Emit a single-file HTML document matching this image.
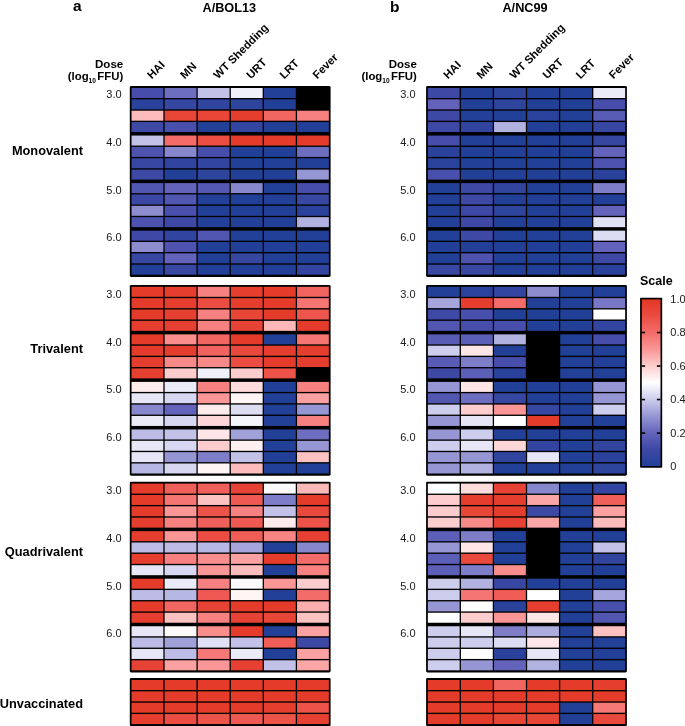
<!DOCTYPE html>
<html><head><meta charset="utf-8"><style>
html,body{margin:0;padding:0;background:#fff;}
body{width:685px;height:726px;overflow:hidden;}
svg{display:block;will-change:transform;font-family:"Liberation Sans",sans-serif;}
</style></head><body>
<svg width="685" height="726" viewBox="0 0 685 726">
<defs><filter id="sb" x="0" y="0" width="1" height="1"><feGaussianBlur stdDeviation="0.4"/></filter></defs>
<g filter="url(#sb)">
<rect x="0" y="0" width="685" height="726" fill="#fff"/>
<rect x="129.8" y="86.1" width="200.8" height="190.8" rx="1.4" fill="#000"/>
<rect x="131.55" y="88" width="31.8" height="10" fill="#464eaa"/>
<rect x="164.65" y="88" width="31.8" height="10" fill="#6e6ec1"/>
<rect x="197.75" y="88" width="31.8" height="10" fill="#c2c2e9"/>
<rect x="230.85" y="88" width="31.8" height="10" fill="#f0f0fa"/>
<rect x="263.95" y="88" width="31.8" height="10" fill="#224198"/>
<rect x="131.55" y="99.35" width="31.8" height="10" fill="#2a439c"/>
<rect x="164.65" y="99.35" width="31.8" height="10" fill="#3646a1"/>
<rect x="197.75" y="99.35" width="31.8" height="10" fill="#30449e"/>
<rect x="230.85" y="99.35" width="31.8" height="10" fill="#2d449d"/>
<rect x="263.95" y="99.35" width="31.8" height="10" fill="#224198"/>
<rect x="131.55" y="110.7" width="31.8" height="10" fill="#fcbcbc"/>
<rect x="164.65" y="110.7" width="31.8" height="10" fill="#e84639"/>
<rect x="197.75" y="110.7" width="31.8" height="10" fill="#e84639"/>
<rect x="230.85" y="110.7" width="31.8" height="10" fill="#e53e2e"/>
<rect x="263.95" y="110.7" width="31.8" height="10" fill="#f26662"/>
<rect x="297.05" y="110.7" width="31.8" height="10" fill="#f78180"/>
<rect x="131.55" y="122.05" width="31.8" height="10" fill="#3e48a5"/>
<rect x="164.65" y="122.05" width="31.8" height="10" fill="#4950ac"/>
<rect x="197.75" y="122.05" width="31.8" height="10" fill="#224198"/>
<rect x="230.85" y="122.05" width="31.8" height="10" fill="#3345a0"/>
<rect x="263.95" y="122.05" width="31.8" height="10" fill="#224198"/>
<rect x="297.05" y="122.05" width="31.8" height="10" fill="#224198"/>
<rect x="131.55" y="135.55" width="31.8" height="10" fill="#c2c2e9"/>
<rect x="164.65" y="135.55" width="31.8" height="10" fill="#f46c6a"/>
<rect x="197.75" y="135.55" width="31.8" height="10" fill="#eb4d42"/>
<rect x="230.85" y="135.55" width="31.8" height="10" fill="#e43b2b"/>
<rect x="263.95" y="135.55" width="31.8" height="10" fill="#e43b2b"/>
<rect x="297.05" y="135.55" width="31.8" height="10" fill="#e43b2b"/>
<rect x="131.55" y="146.9" width="31.8" height="10" fill="#4d53ae"/>
<rect x="164.65" y="146.9" width="31.8" height="10" fill="#8787cd"/>
<rect x="197.75" y="146.9" width="31.8" height="10" fill="#464eaa"/>
<rect x="230.85" y="146.9" width="31.8" height="10" fill="#224198"/>
<rect x="263.95" y="146.9" width="31.8" height="10" fill="#224198"/>
<rect x="297.05" y="146.9" width="31.8" height="10" fill="#6e6ec1"/>
<rect x="131.55" y="158.25" width="31.8" height="10" fill="#3847a2"/>
<rect x="164.65" y="158.25" width="31.8" height="10" fill="#30449e"/>
<rect x="197.75" y="158.25" width="31.8" height="10" fill="#3345a0"/>
<rect x="230.85" y="158.25" width="31.8" height="10" fill="#224198"/>
<rect x="263.95" y="158.25" width="31.8" height="10" fill="#224198"/>
<rect x="297.05" y="158.25" width="31.8" height="10" fill="#224198"/>
<rect x="131.55" y="169.6" width="31.8" height="10" fill="#3e48a5"/>
<rect x="164.65" y="169.6" width="31.8" height="10" fill="#224198"/>
<rect x="197.75" y="169.6" width="31.8" height="10" fill="#2d449d"/>
<rect x="230.85" y="169.6" width="31.8" height="10" fill="#224198"/>
<rect x="263.95" y="169.6" width="31.8" height="10" fill="#224198"/>
<rect x="297.05" y="169.6" width="31.8" height="10" fill="#9696d4"/>
<rect x="131.55" y="183.1" width="31.8" height="10" fill="#5156b0"/>
<rect x="164.65" y="183.1" width="31.8" height="10" fill="#6464bc"/>
<rect x="197.75" y="183.1" width="31.8" height="10" fill="#5559b3"/>
<rect x="230.85" y="183.1" width="31.8" height="10" fill="#8787cd"/>
<rect x="263.95" y="183.1" width="31.8" height="10" fill="#224198"/>
<rect x="297.05" y="183.1" width="31.8" height="10" fill="#464eaa"/>
<rect x="131.55" y="194.45" width="31.8" height="10" fill="#3b47a4"/>
<rect x="164.65" y="194.45" width="31.8" height="10" fill="#5156b0"/>
<rect x="197.75" y="194.45" width="31.8" height="10" fill="#224198"/>
<rect x="230.85" y="194.45" width="31.8" height="10" fill="#224198"/>
<rect x="263.95" y="194.45" width="31.8" height="10" fill="#224198"/>
<rect x="297.05" y="194.45" width="31.8" height="10" fill="#3847a2"/>
<rect x="131.55" y="205.8" width="31.8" height="10" fill="#8c8ccf"/>
<rect x="164.65" y="205.8" width="31.8" height="10" fill="#4950ac"/>
<rect x="197.75" y="205.8" width="31.8" height="10" fill="#224198"/>
<rect x="230.85" y="205.8" width="31.8" height="10" fill="#224198"/>
<rect x="263.95" y="205.8" width="31.8" height="10" fill="#224198"/>
<rect x="297.05" y="205.8" width="31.8" height="10" fill="#2a439c"/>
<rect x="131.55" y="217.15" width="31.8" height="10" fill="#4d53ae"/>
<rect x="164.65" y="217.15" width="31.8" height="10" fill="#3e48a5"/>
<rect x="197.75" y="217.15" width="31.8" height="10" fill="#224198"/>
<rect x="230.85" y="217.15" width="31.8" height="10" fill="#224198"/>
<rect x="263.95" y="217.15" width="31.8" height="10" fill="#224198"/>
<rect x="297.05" y="217.15" width="31.8" height="10" fill="#b2b2e1"/>
<rect x="131.55" y="230.65" width="31.8" height="10" fill="#3e48a5"/>
<rect x="164.65" y="230.65" width="31.8" height="10" fill="#30449e"/>
<rect x="197.75" y="230.65" width="31.8" height="10" fill="#5156b0"/>
<rect x="230.85" y="230.65" width="31.8" height="10" fill="#224198"/>
<rect x="263.95" y="230.65" width="31.8" height="10" fill="#224198"/>
<rect x="297.05" y="230.65" width="31.8" height="10" fill="#224198"/>
<rect x="131.55" y="242" width="31.8" height="10" fill="#8c8ccf"/>
<rect x="164.65" y="242" width="31.8" height="10" fill="#4d53ae"/>
<rect x="197.75" y="242" width="31.8" height="10" fill="#224198"/>
<rect x="230.85" y="242" width="31.8" height="10" fill="#224198"/>
<rect x="263.95" y="242" width="31.8" height="10" fill="#224198"/>
<rect x="297.05" y="242" width="31.8" height="10" fill="#224198"/>
<rect x="131.55" y="253.35" width="31.8" height="10" fill="#3847a2"/>
<rect x="164.65" y="253.35" width="31.8" height="10" fill="#6464bc"/>
<rect x="197.75" y="253.35" width="31.8" height="10" fill="#224198"/>
<rect x="230.85" y="253.35" width="31.8" height="10" fill="#3646a1"/>
<rect x="263.95" y="253.35" width="31.8" height="10" fill="#224198"/>
<rect x="297.05" y="253.35" width="31.8" height="10" fill="#224198"/>
<rect x="131.55" y="264.7" width="31.8" height="10" fill="#224198"/>
<rect x="164.65" y="264.7" width="31.8" height="10" fill="#3847a2"/>
<rect x="197.75" y="264.7" width="31.8" height="10" fill="#224198"/>
<rect x="230.85" y="264.7" width="31.8" height="10" fill="#224198"/>
<rect x="263.95" y="264.7" width="31.8" height="10" fill="#224198"/>
<rect x="297.05" y="264.7" width="31.8" height="10" fill="#3345a0"/>
<rect x="129.8" y="284.9" width="200.8" height="190.8" rx="1.4" fill="#000"/>
<rect x="131.55" y="286.8" width="31.8" height="10" fill="#e43b2b"/>
<rect x="164.65" y="286.8" width="31.8" height="10" fill="#e53e2e"/>
<rect x="197.75" y="286.8" width="31.8" height="10" fill="#f78180"/>
<rect x="230.85" y="286.8" width="31.8" height="10" fill="#e53e2e"/>
<rect x="263.95" y="286.8" width="31.8" height="10" fill="#e43b2b"/>
<rect x="297.05" y="286.8" width="31.8" height="10" fill="#f1635e"/>
<rect x="131.55" y="298.15" width="31.8" height="10" fill="#e43b2b"/>
<rect x="164.65" y="298.15" width="31.8" height="10" fill="#e53e2e"/>
<rect x="197.75" y="298.15" width="31.8" height="10" fill="#eb4d42"/>
<rect x="230.85" y="298.15" width="31.8" height="10" fill="#e53e2e"/>
<rect x="263.95" y="298.15" width="31.8" height="10" fill="#e43b2b"/>
<rect x="297.05" y="298.15" width="31.8" height="10" fill="#f57473"/>
<rect x="131.55" y="309.5" width="31.8" height="10" fill="#e43b2b"/>
<rect x="164.65" y="309.5" width="31.8" height="10" fill="#e64031"/>
<rect x="197.75" y="309.5" width="31.8" height="10" fill="#f78180"/>
<rect x="230.85" y="309.5" width="31.8" height="10" fill="#e84639"/>
<rect x="263.95" y="309.5" width="31.8" height="10" fill="#e43b2b"/>
<rect x="297.05" y="309.5" width="31.8" height="10" fill="#ee564e"/>
<rect x="131.55" y="320.85" width="31.8" height="10" fill="#e53e2e"/>
<rect x="164.65" y="320.85" width="31.8" height="10" fill="#e64031"/>
<rect x="197.75" y="320.85" width="31.8" height="10" fill="#f78180"/>
<rect x="230.85" y="320.85" width="31.8" height="10" fill="#e64234"/>
<rect x="263.95" y="320.85" width="31.8" height="10" fill="#fcb7b7"/>
<rect x="297.05" y="320.85" width="31.8" height="10" fill="#e43b2b"/>
<rect x="131.55" y="334.35" width="31.8" height="10" fill="#e43b2b"/>
<rect x="164.65" y="334.35" width="31.8" height="10" fill="#f98e8d"/>
<rect x="197.75" y="334.35" width="31.8" height="10" fill="#f26662"/>
<rect x="230.85" y="334.35" width="31.8" height="10" fill="#e43b2b"/>
<rect x="263.95" y="334.35" width="31.8" height="10" fill="#224198"/>
<rect x="297.05" y="334.35" width="31.8" height="10" fill="#f57473"/>
<rect x="131.55" y="345.7" width="31.8" height="10" fill="#e43b2b"/>
<rect x="164.65" y="345.7" width="31.8" height="10" fill="#e53e2e"/>
<rect x="197.75" y="345.7" width="31.8" height="10" fill="#f1635e"/>
<rect x="230.85" y="345.7" width="31.8" height="10" fill="#e9493c"/>
<rect x="263.95" y="345.7" width="31.8" height="10" fill="#e53e2e"/>
<rect x="297.05" y="345.7" width="31.8" height="10" fill="#e53e2e"/>
<rect x="131.55" y="357.05" width="31.8" height="10" fill="#e53e2e"/>
<rect x="164.65" y="357.05" width="31.8" height="10" fill="#f88989"/>
<rect x="197.75" y="357.05" width="31.8" height="10" fill="#f88989"/>
<rect x="230.85" y="357.05" width="31.8" height="10" fill="#eb4d42"/>
<rect x="263.95" y="357.05" width="31.8" height="10" fill="#e43b2b"/>
<rect x="297.05" y="357.05" width="31.8" height="10" fill="#e53e2e"/>
<rect x="131.55" y="368.4" width="31.8" height="10" fill="#e64031"/>
<rect x="164.65" y="368.4" width="31.8" height="10" fill="#fdcdcd"/>
<rect x="197.75" y="368.4" width="31.8" height="10" fill="#f0f0fa"/>
<rect x="230.85" y="368.4" width="31.8" height="10" fill="#fdcdcd"/>
<rect x="263.95" y="368.4" width="31.8" height="10" fill="#ed534a"/>
<rect x="131.55" y="381.9" width="31.8" height="10" fill="#feebeb"/>
<rect x="164.65" y="381.9" width="31.8" height="10" fill="#ebebf8"/>
<rect x="197.75" y="381.9" width="31.8" height="10" fill="#f78180"/>
<rect x="230.85" y="381.9" width="31.8" height="10" fill="#fedcdc"/>
<rect x="263.95" y="381.9" width="31.8" height="10" fill="#224198"/>
<rect x="297.05" y="381.9" width="31.8" height="10" fill="#f78180"/>
<rect x="131.55" y="393.25" width="31.8" height="10" fill="#e6e6f6"/>
<rect x="164.65" y="393.25" width="31.8" height="10" fill="#d7d7f1"/>
<rect x="197.75" y="393.25" width="31.8" height="10" fill="#fa9696"/>
<rect x="230.85" y="393.25" width="31.8" height="10" fill="#fff5f5"/>
<rect x="263.95" y="393.25" width="31.8" height="10" fill="#224198"/>
<rect x="297.05" y="393.25" width="31.8" height="10" fill="#fba1a1"/>
<rect x="131.55" y="404.6" width="31.8" height="10" fill="#8787cd"/>
<rect x="164.65" y="404.6" width="31.8" height="10" fill="#6464bc"/>
<rect x="197.75" y="404.6" width="31.8" height="10" fill="#feebeb"/>
<rect x="230.85" y="404.6" width="31.8" height="10" fill="#dcdcf3"/>
<rect x="263.95" y="404.6" width="31.8" height="10" fill="#224198"/>
<rect x="297.05" y="404.6" width="31.8" height="10" fill="#9696d4"/>
<rect x="131.55" y="415.95" width="31.8" height="10" fill="#ebebf8"/>
<rect x="164.65" y="415.95" width="31.8" height="10" fill="#d7d7f1"/>
<rect x="197.75" y="415.95" width="31.8" height="10" fill="#fdd7d7"/>
<rect x="230.85" y="415.95" width="31.8" height="10" fill="#f5f5fc"/>
<rect x="263.95" y="415.95" width="31.8" height="10" fill="#224198"/>
<rect x="297.05" y="415.95" width="31.8" height="10" fill="#f78180"/>
<rect x="131.55" y="429.45" width="31.8" height="10" fill="#bcbce6"/>
<rect x="164.65" y="429.45" width="31.8" height="10" fill="#c2c2e9"/>
<rect x="197.75" y="429.45" width="31.8" height="10" fill="#fee6e6"/>
<rect x="230.85" y="429.45" width="31.8" height="10" fill="#a1a1d9"/>
<rect x="263.95" y="429.45" width="31.8" height="10" fill="#224198"/>
<rect x="297.05" y="429.45" width="31.8" height="10" fill="#6e6ec1"/>
<rect x="131.55" y="440.8" width="31.8" height="10" fill="#e6e6f6"/>
<rect x="164.65" y="440.8" width="31.8" height="10" fill="#d7d7f1"/>
<rect x="197.75" y="440.8" width="31.8" height="10" fill="#fdcdcd"/>
<rect x="230.85" y="440.8" width="31.8" height="10" fill="#fef0f0"/>
<rect x="263.95" y="440.8" width="31.8" height="10" fill="#224198"/>
<rect x="297.05" y="440.8" width="31.8" height="10" fill="#9696d4"/>
<rect x="131.55" y="452.15" width="31.8" height="10" fill="#e6e6f6"/>
<rect x="164.65" y="452.15" width="31.8" height="10" fill="#9696d4"/>
<rect x="197.75" y="452.15" width="31.8" height="10" fill="#7d7dc8"/>
<rect x="230.85" y="452.15" width="31.8" height="10" fill="#c2c2e9"/>
<rect x="263.95" y="452.15" width="31.8" height="10" fill="#224198"/>
<rect x="297.05" y="452.15" width="31.8" height="10" fill="#fcc2c2"/>
<rect x="131.55" y="463.5" width="31.8" height="10" fill="#b7b7e4"/>
<rect x="164.65" y="463.5" width="31.8" height="10" fill="#d7d7f1"/>
<rect x="197.75" y="463.5" width="31.8" height="10" fill="#fff5f5"/>
<rect x="230.85" y="463.5" width="31.8" height="10" fill="#fcbcbc"/>
<rect x="263.95" y="463.5" width="31.8" height="10" fill="#224198"/>
<rect x="297.05" y="463.5" width="31.8" height="10" fill="#224198"/>
<rect x="129.8" y="481.7" width="200.8" height="190.8" rx="1.4" fill="#000"/>
<rect x="131.55" y="483.6" width="31.8" height="10" fill="#e43b2b"/>
<rect x="164.65" y="483.6" width="31.8" height="10" fill="#f0605a"/>
<rect x="197.75" y="483.6" width="31.8" height="10" fill="#f0605a"/>
<rect x="230.85" y="483.6" width="31.8" height="10" fill="#e64234"/>
<rect x="263.95" y="483.6" width="31.8" height="10" fill="#fafafd"/>
<rect x="297.05" y="483.6" width="31.8" height="10" fill="#fcb7b7"/>
<rect x="131.55" y="494.95" width="31.8" height="10" fill="#e43b2b"/>
<rect x="164.65" y="494.95" width="31.8" height="10" fill="#f57473"/>
<rect x="197.75" y="494.95" width="31.8" height="10" fill="#fcc2c2"/>
<rect x="230.85" y="494.95" width="31.8" height="10" fill="#ef5952"/>
<rect x="263.95" y="494.95" width="31.8" height="10" fill="#7d7dc8"/>
<rect x="297.05" y="494.95" width="31.8" height="10" fill="#e43b2b"/>
<rect x="131.55" y="506.3" width="31.8" height="10" fill="#e43b2b"/>
<rect x="164.65" y="506.3" width="31.8" height="10" fill="#fa9696"/>
<rect x="197.75" y="506.3" width="31.8" height="10" fill="#ed534a"/>
<rect x="230.85" y="506.3" width="31.8" height="10" fill="#f78180"/>
<rect x="263.95" y="506.3" width="31.8" height="10" fill="#c2c2e9"/>
<rect x="297.05" y="506.3" width="31.8" height="10" fill="#e9493c"/>
<rect x="131.55" y="517.65" width="31.8" height="10" fill="#e53e2e"/>
<rect x="164.65" y="517.65" width="31.8" height="10" fill="#f78180"/>
<rect x="197.75" y="517.65" width="31.8" height="10" fill="#f0605a"/>
<rect x="230.85" y="517.65" width="31.8" height="10" fill="#ef5952"/>
<rect x="263.95" y="517.65" width="31.8" height="10" fill="#feebeb"/>
<rect x="297.05" y="517.65" width="31.8" height="10" fill="#ed534a"/>
<rect x="131.55" y="531.15" width="31.8" height="10" fill="#e53e2e"/>
<rect x="164.65" y="531.15" width="31.8" height="10" fill="#fa9696"/>
<rect x="197.75" y="531.15" width="31.8" height="10" fill="#eb4d42"/>
<rect x="230.85" y="531.15" width="31.8" height="10" fill="#f05d56"/>
<rect x="263.95" y="531.15" width="31.8" height="10" fill="#f88584"/>
<rect x="297.05" y="531.15" width="31.8" height="10" fill="#e64031"/>
<rect x="131.55" y="542.5" width="31.8" height="10" fill="#bcbce6"/>
<rect x="164.65" y="542.5" width="31.8" height="10" fill="#bcbce6"/>
<rect x="197.75" y="542.5" width="31.8" height="10" fill="#b7b7e4"/>
<rect x="230.85" y="542.5" width="31.8" height="10" fill="#a6a6dc"/>
<rect x="263.95" y="542.5" width="31.8" height="10" fill="#224198"/>
<rect x="297.05" y="542.5" width="31.8" height="10" fill="#8787cd"/>
<rect x="131.55" y="553.85" width="31.8" height="10" fill="#e53e2e"/>
<rect x="164.65" y="553.85" width="31.8" height="10" fill="#f78180"/>
<rect x="197.75" y="553.85" width="31.8" height="10" fill="#f98e8d"/>
<rect x="230.85" y="553.85" width="31.8" height="10" fill="#fba1a1"/>
<rect x="263.95" y="553.85" width="31.8" height="10" fill="#e43b2b"/>
<rect x="297.05" y="553.85" width="31.8" height="10" fill="#f46c6a"/>
<rect x="131.55" y="565.2" width="31.8" height="10" fill="#e6e6f6"/>
<rect x="164.65" y="565.2" width="31.8" height="10" fill="#d7d7f1"/>
<rect x="197.75" y="565.2" width="31.8" height="10" fill="#fa9696"/>
<rect x="230.85" y="565.2" width="31.8" height="10" fill="#fcbcbc"/>
<rect x="263.95" y="565.2" width="31.8" height="10" fill="#224198"/>
<rect x="297.05" y="565.2" width="31.8" height="10" fill="#f78180"/>
<rect x="131.55" y="578.7" width="31.8" height="10" fill="#e43b2b"/>
<rect x="164.65" y="578.7" width="31.8" height="10" fill="#ebebf8"/>
<rect x="197.75" y="578.7" width="31.8" height="10" fill="#f78180"/>
<rect x="230.85" y="578.7" width="31.8" height="10" fill="#fafafd"/>
<rect x="263.95" y="578.7" width="31.8" height="10" fill="#fa9696"/>
<rect x="297.05" y="578.7" width="31.8" height="10" fill="#fdcdcd"/>
<rect x="131.55" y="590.05" width="31.8" height="10" fill="#bcbce6"/>
<rect x="164.65" y="590.05" width="31.8" height="10" fill="#b7b7e4"/>
<rect x="197.75" y="590.05" width="31.8" height="10" fill="#ef5952"/>
<rect x="230.85" y="590.05" width="31.8" height="10" fill="#fff5f5"/>
<rect x="263.95" y="590.05" width="31.8" height="10" fill="#224198"/>
<rect x="297.05" y="590.05" width="31.8" height="10" fill="#f46c6a"/>
<rect x="131.55" y="601.4" width="31.8" height="10" fill="#e43b2b"/>
<rect x="164.65" y="601.4" width="31.8" height="10" fill="#f26662"/>
<rect x="197.75" y="601.4" width="31.8" height="10" fill="#e64234"/>
<rect x="230.85" y="601.4" width="31.8" height="10" fill="#e43b2b"/>
<rect x="263.95" y="601.4" width="31.8" height="10" fill="#e43b2b"/>
<rect x="297.05" y="601.4" width="31.8" height="10" fill="#fbacac"/>
<rect x="131.55" y="612.75" width="31.8" height="10" fill="#e53e2e"/>
<rect x="164.65" y="612.75" width="31.8" height="10" fill="#fcc2c2"/>
<rect x="197.75" y="612.75" width="31.8" height="10" fill="#f78180"/>
<rect x="230.85" y="612.75" width="31.8" height="10" fill="#e64234"/>
<rect x="263.95" y="612.75" width="31.8" height="10" fill="#e74436"/>
<rect x="297.05" y="612.75" width="31.8" height="10" fill="#fcc2c2"/>
<rect x="131.55" y="626.25" width="31.8" height="10" fill="#e6e6f6"/>
<rect x="164.65" y="626.25" width="31.8" height="10" fill="#fffafa"/>
<rect x="197.75" y="626.25" width="31.8" height="10" fill="#f98e8d"/>
<rect x="230.85" y="626.25" width="31.8" height="10" fill="#e43b2b"/>
<rect x="263.95" y="626.25" width="31.8" height="10" fill="#224198"/>
<rect x="297.05" y="626.25" width="31.8" height="10" fill="#fba1a1"/>
<rect x="131.55" y="637.6" width="31.8" height="10" fill="#bcbce6"/>
<rect x="164.65" y="637.6" width="31.8" height="10" fill="#a1a1d9"/>
<rect x="197.75" y="637.6" width="31.8" height="10" fill="#e1e1f5"/>
<rect x="230.85" y="637.6" width="31.8" height="10" fill="#c2c2e9"/>
<rect x="263.95" y="637.6" width="31.8" height="10" fill="#f05d56"/>
<rect x="297.05" y="637.6" width="31.8" height="10" fill="#3e48a5"/>
<rect x="131.55" y="648.95" width="31.8" height="10" fill="#e6e6f6"/>
<rect x="164.65" y="648.95" width="31.8" height="10" fill="#bcbce6"/>
<rect x="197.75" y="648.95" width="31.8" height="10" fill="#f67977"/>
<rect x="230.85" y="648.95" width="31.8" height="10" fill="#ebebf8"/>
<rect x="263.95" y="648.95" width="31.8" height="10" fill="#224198"/>
<rect x="297.05" y="648.95" width="31.8" height="10" fill="#fba1a1"/>
<rect x="131.55" y="660.3" width="31.8" height="10" fill="#e64234"/>
<rect x="164.65" y="660.3" width="31.8" height="10" fill="#fba1a1"/>
<rect x="197.75" y="660.3" width="31.8" height="10" fill="#fa9696"/>
<rect x="230.85" y="660.3" width="31.8" height="10" fill="#e64031"/>
<rect x="263.95" y="660.3" width="31.8" height="10" fill="#c2c2e9"/>
<rect x="297.05" y="660.3" width="31.8" height="10" fill="#fba6a6"/>
<rect x="129.8" y="678.1" width="200.8" height="48.15" rx="1.4" fill="#000"/>
<rect x="131.55" y="680" width="31.8" height="10" fill="#e43b2b"/>
<rect x="164.65" y="680" width="31.8" height="10" fill="#e43b2b"/>
<rect x="197.75" y="680" width="31.8" height="10" fill="#e43b2b"/>
<rect x="230.85" y="680" width="31.8" height="10" fill="#e43b2b"/>
<rect x="263.95" y="680" width="31.8" height="10" fill="#e43b2b"/>
<rect x="297.05" y="680" width="31.8" height="10" fill="#e43b2b"/>
<rect x="131.55" y="691.35" width="31.8" height="10" fill="#e43b2b"/>
<rect x="164.65" y="691.35" width="31.8" height="10" fill="#e43b2b"/>
<rect x="197.75" y="691.35" width="31.8" height="10" fill="#e43b2b"/>
<rect x="230.85" y="691.35" width="31.8" height="10" fill="#e43b2b"/>
<rect x="263.95" y="691.35" width="31.8" height="10" fill="#e43b2b"/>
<rect x="297.05" y="691.35" width="31.8" height="10" fill="#e43b2b"/>
<rect x="131.55" y="702.7" width="31.8" height="10" fill="#e43b2b"/>
<rect x="164.65" y="702.7" width="31.8" height="10" fill="#e43b2b"/>
<rect x="197.75" y="702.7" width="31.8" height="10" fill="#e43b2b"/>
<rect x="230.85" y="702.7" width="31.8" height="10" fill="#e43b2b"/>
<rect x="263.95" y="702.7" width="31.8" height="10" fill="#e53e2e"/>
<rect x="297.05" y="702.7" width="31.8" height="10" fill="#ed534a"/>
<rect x="131.55" y="714.05" width="31.8" height="10" fill="#e53e2e"/>
<rect x="164.65" y="714.05" width="31.8" height="10" fill="#eb4d42"/>
<rect x="197.75" y="714.05" width="31.8" height="10" fill="#ed534a"/>
<rect x="230.85" y="714.05" width="31.8" height="10" fill="#ef5952"/>
<rect x="263.95" y="714.05" width="31.8" height="10" fill="#ed534a"/>
<rect x="297.05" y="714.05" width="31.8" height="10" fill="#e64031"/>
<rect x="426.1" y="86.1" width="200.8" height="190.8" rx="1.4" fill="#000"/>
<rect x="427.85" y="88" width="31.8" height="10" fill="#3e48a5"/>
<rect x="460.95" y="88" width="31.8" height="10" fill="#224198"/>
<rect x="494.05" y="88" width="31.8" height="10" fill="#2d449d"/>
<rect x="527.15" y="88" width="31.8" height="10" fill="#224198"/>
<rect x="560.25" y="88" width="31.8" height="10" fill="#224198"/>
<rect x="593.35" y="88" width="31.8" height="10" fill="#ebebf8"/>
<rect x="427.85" y="99.35" width="31.8" height="10" fill="#6464bc"/>
<rect x="460.95" y="99.35" width="31.8" height="10" fill="#224198"/>
<rect x="494.05" y="99.35" width="31.8" height="10" fill="#2d449d"/>
<rect x="527.15" y="99.35" width="31.8" height="10" fill="#224198"/>
<rect x="560.25" y="99.35" width="31.8" height="10" fill="#224198"/>
<rect x="593.35" y="99.35" width="31.8" height="10" fill="#464eaa"/>
<rect x="427.85" y="110.7" width="31.8" height="10" fill="#3e48a5"/>
<rect x="460.95" y="110.7" width="31.8" height="10" fill="#224198"/>
<rect x="494.05" y="110.7" width="31.8" height="10" fill="#224198"/>
<rect x="527.15" y="110.7" width="31.8" height="10" fill="#2a439c"/>
<rect x="560.25" y="110.7" width="31.8" height="10" fill="#224198"/>
<rect x="593.35" y="110.7" width="31.8" height="10" fill="#595cb5"/>
<rect x="427.85" y="122.05" width="31.8" height="10" fill="#3e48a5"/>
<rect x="460.95" y="122.05" width="31.8" height="10" fill="#30449e"/>
<rect x="494.05" y="122.05" width="31.8" height="10" fill="#b2b2e1"/>
<rect x="527.15" y="122.05" width="31.8" height="10" fill="#224198"/>
<rect x="560.25" y="122.05" width="31.8" height="10" fill="#224198"/>
<rect x="593.35" y="122.05" width="31.8" height="10" fill="#3847a2"/>
<rect x="427.85" y="135.55" width="31.8" height="10" fill="#464eaa"/>
<rect x="460.95" y="135.55" width="31.8" height="10" fill="#224198"/>
<rect x="494.05" y="135.55" width="31.8" height="10" fill="#224198"/>
<rect x="527.15" y="135.55" width="31.8" height="10" fill="#224198"/>
<rect x="560.25" y="135.55" width="31.8" height="10" fill="#224198"/>
<rect x="593.35" y="135.55" width="31.8" height="10" fill="#3646a1"/>
<rect x="427.85" y="146.9" width="31.8" height="10" fill="#2a439c"/>
<rect x="460.95" y="146.9" width="31.8" height="10" fill="#224198"/>
<rect x="494.05" y="146.9" width="31.8" height="10" fill="#224198"/>
<rect x="527.15" y="146.9" width="31.8" height="10" fill="#224198"/>
<rect x="560.25" y="146.9" width="31.8" height="10" fill="#224198"/>
<rect x="593.35" y="146.9" width="31.8" height="10" fill="#6464bc"/>
<rect x="427.85" y="158.25" width="31.8" height="10" fill="#2a439c"/>
<rect x="460.95" y="158.25" width="31.8" height="10" fill="#224198"/>
<rect x="494.05" y="158.25" width="31.8" height="10" fill="#224198"/>
<rect x="527.15" y="158.25" width="31.8" height="10" fill="#224198"/>
<rect x="560.25" y="158.25" width="31.8" height="10" fill="#224198"/>
<rect x="593.35" y="158.25" width="31.8" height="10" fill="#4d53ae"/>
<rect x="427.85" y="169.6" width="31.8" height="10" fill="#4950ac"/>
<rect x="460.95" y="169.6" width="31.8" height="10" fill="#224198"/>
<rect x="494.05" y="169.6" width="31.8" height="10" fill="#224198"/>
<rect x="527.15" y="169.6" width="31.8" height="10" fill="#224198"/>
<rect x="560.25" y="169.6" width="31.8" height="10" fill="#224198"/>
<rect x="593.35" y="169.6" width="31.8" height="10" fill="#2a439c"/>
<rect x="427.85" y="183.1" width="31.8" height="10" fill="#224198"/>
<rect x="460.95" y="183.1" width="31.8" height="10" fill="#3e48a5"/>
<rect x="494.05" y="183.1" width="31.8" height="10" fill="#30449e"/>
<rect x="527.15" y="183.1" width="31.8" height="10" fill="#224198"/>
<rect x="560.25" y="183.1" width="31.8" height="10" fill="#224198"/>
<rect x="593.35" y="183.1" width="31.8" height="10" fill="#7d7dc8"/>
<rect x="427.85" y="194.45" width="31.8" height="10" fill="#224198"/>
<rect x="460.95" y="194.45" width="31.8" height="10" fill="#3e48a5"/>
<rect x="494.05" y="194.45" width="31.8" height="10" fill="#224198"/>
<rect x="527.15" y="194.45" width="31.8" height="10" fill="#224198"/>
<rect x="560.25" y="194.45" width="31.8" height="10" fill="#224198"/>
<rect x="593.35" y="194.45" width="31.8" height="10" fill="#224198"/>
<rect x="427.85" y="205.8" width="31.8" height="10" fill="#224198"/>
<rect x="460.95" y="205.8" width="31.8" height="10" fill="#3e48a5"/>
<rect x="494.05" y="205.8" width="31.8" height="10" fill="#2d449d"/>
<rect x="527.15" y="205.8" width="31.8" height="10" fill="#224198"/>
<rect x="560.25" y="205.8" width="31.8" height="10" fill="#224198"/>
<rect x="593.35" y="205.8" width="31.8" height="10" fill="#6464bc"/>
<rect x="427.85" y="217.15" width="31.8" height="10" fill="#224198"/>
<rect x="460.95" y="217.15" width="31.8" height="10" fill="#3e48a5"/>
<rect x="494.05" y="217.15" width="31.8" height="10" fill="#224198"/>
<rect x="527.15" y="217.15" width="31.8" height="10" fill="#224198"/>
<rect x="560.25" y="217.15" width="31.8" height="10" fill="#224198"/>
<rect x="593.35" y="217.15" width="31.8" height="10" fill="#e1e1f5"/>
<rect x="427.85" y="230.65" width="31.8" height="10" fill="#224198"/>
<rect x="460.95" y="230.65" width="31.8" height="10" fill="#3e48a5"/>
<rect x="494.05" y="230.65" width="31.8" height="10" fill="#224198"/>
<rect x="527.15" y="230.65" width="31.8" height="10" fill="#224198"/>
<rect x="560.25" y="230.65" width="31.8" height="10" fill="#224198"/>
<rect x="593.35" y="230.65" width="31.8" height="10" fill="#dcdcf3"/>
<rect x="427.85" y="242" width="31.8" height="10" fill="#224198"/>
<rect x="460.95" y="242" width="31.8" height="10" fill="#224198"/>
<rect x="494.05" y="242" width="31.8" height="10" fill="#224198"/>
<rect x="527.15" y="242" width="31.8" height="10" fill="#224198"/>
<rect x="560.25" y="242" width="31.8" height="10" fill="#224198"/>
<rect x="593.35" y="242" width="31.8" height="10" fill="#6464bc"/>
<rect x="427.85" y="253.35" width="31.8" height="10" fill="#224198"/>
<rect x="460.95" y="253.35" width="31.8" height="10" fill="#4d53ae"/>
<rect x="494.05" y="253.35" width="31.8" height="10" fill="#224198"/>
<rect x="527.15" y="253.35" width="31.8" height="10" fill="#224198"/>
<rect x="560.25" y="253.35" width="31.8" height="10" fill="#224198"/>
<rect x="593.35" y="253.35" width="31.8" height="10" fill="#3e48a5"/>
<rect x="427.85" y="264.7" width="31.8" height="10" fill="#3847a2"/>
<rect x="460.95" y="264.7" width="31.8" height="10" fill="#3847a2"/>
<rect x="494.05" y="264.7" width="31.8" height="10" fill="#224198"/>
<rect x="527.15" y="264.7" width="31.8" height="10" fill="#224198"/>
<rect x="560.25" y="264.7" width="31.8" height="10" fill="#224198"/>
<rect x="593.35" y="264.7" width="31.8" height="10" fill="#2a439c"/>
<rect x="426.1" y="284.9" width="200.8" height="190.8" rx="1.4" fill="#000"/>
<rect x="427.85" y="286.8" width="31.8" height="10" fill="#224198"/>
<rect x="460.95" y="286.8" width="31.8" height="10" fill="#2a439c"/>
<rect x="494.05" y="286.8" width="31.8" height="10" fill="#3345a0"/>
<rect x="527.15" y="286.8" width="31.8" height="10" fill="#8c8ccf"/>
<rect x="560.25" y="286.8" width="31.8" height="10" fill="#224198"/>
<rect x="593.35" y="286.8" width="31.8" height="10" fill="#224198"/>
<rect x="427.85" y="298.15" width="31.8" height="10" fill="#a6a6dc"/>
<rect x="460.95" y="298.15" width="31.8" height="10" fill="#e53e2e"/>
<rect x="494.05" y="298.15" width="31.8" height="10" fill="#f46c6a"/>
<rect x="527.15" y="298.15" width="31.8" height="10" fill="#224198"/>
<rect x="560.25" y="298.15" width="31.8" height="10" fill="#224198"/>
<rect x="593.35" y="298.15" width="31.8" height="10" fill="#7878c6"/>
<rect x="427.85" y="309.5" width="31.8" height="10" fill="#3e48a5"/>
<rect x="460.95" y="309.5" width="31.8" height="10" fill="#4950ac"/>
<rect x="494.05" y="309.5" width="31.8" height="10" fill="#224198"/>
<rect x="527.15" y="309.5" width="31.8" height="10" fill="#224198"/>
<rect x="560.25" y="309.5" width="31.8" height="10" fill="#224198"/>
<rect x="593.35" y="309.5" width="31.8" height="10" fill="#ffffff"/>
<rect x="427.85" y="320.85" width="31.8" height="10" fill="#5156b0"/>
<rect x="460.95" y="320.85" width="31.8" height="10" fill="#464eaa"/>
<rect x="494.05" y="320.85" width="31.8" height="10" fill="#464eaa"/>
<rect x="527.15" y="320.85" width="31.8" height="10" fill="#224198"/>
<rect x="560.25" y="320.85" width="31.8" height="10" fill="#224198"/>
<rect x="593.35" y="320.85" width="31.8" height="10" fill="#3345a0"/>
<rect x="427.85" y="334.35" width="31.8" height="10" fill="#595cb5"/>
<rect x="460.95" y="334.35" width="31.8" height="10" fill="#5c5eb7"/>
<rect x="494.05" y="334.35" width="31.8" height="10" fill="#b2b2e1"/>
<rect x="560.25" y="334.35" width="31.8" height="10" fill="#224198"/>
<rect x="593.35" y="334.35" width="31.8" height="10" fill="#464eaa"/>
<rect x="427.85" y="345.7" width="31.8" height="10" fill="#cdcdee"/>
<rect x="460.95" y="345.7" width="31.8" height="10" fill="#fee6e6"/>
<rect x="494.05" y="345.7" width="31.8" height="10" fill="#224198"/>
<rect x="560.25" y="345.7" width="31.8" height="10" fill="#224198"/>
<rect x="593.35" y="345.7" width="31.8" height="10" fill="#224198"/>
<rect x="427.85" y="357.05" width="31.8" height="10" fill="#595cb5"/>
<rect x="460.95" y="357.05" width="31.8" height="10" fill="#7d7dc8"/>
<rect x="494.05" y="357.05" width="31.8" height="10" fill="#464eaa"/>
<rect x="560.25" y="357.05" width="31.8" height="10" fill="#224198"/>
<rect x="593.35" y="357.05" width="31.8" height="10" fill="#224198"/>
<rect x="427.85" y="368.4" width="31.8" height="10" fill="#3e48a5"/>
<rect x="460.95" y="368.4" width="31.8" height="10" fill="#5c5eb7"/>
<rect x="494.05" y="368.4" width="31.8" height="10" fill="#2a439c"/>
<rect x="560.25" y="368.4" width="31.8" height="10" fill="#224198"/>
<rect x="593.35" y="368.4" width="31.8" height="10" fill="#224198"/>
<rect x="427.85" y="381.9" width="31.8" height="10" fill="#9696d4"/>
<rect x="460.95" y="381.9" width="31.8" height="10" fill="#fee6e6"/>
<rect x="494.05" y="381.9" width="31.8" height="10" fill="#224198"/>
<rect x="527.15" y="381.9" width="31.8" height="10" fill="#224198"/>
<rect x="560.25" y="381.9" width="31.8" height="10" fill="#224198"/>
<rect x="593.35" y="381.9" width="31.8" height="10" fill="#9696d4"/>
<rect x="427.85" y="393.25" width="31.8" height="10" fill="#5156b0"/>
<rect x="460.95" y="393.25" width="31.8" height="10" fill="#6e6ec1"/>
<rect x="494.05" y="393.25" width="31.8" height="10" fill="#3646a1"/>
<rect x="527.15" y="393.25" width="31.8" height="10" fill="#224198"/>
<rect x="560.25" y="393.25" width="31.8" height="10" fill="#224198"/>
<rect x="593.35" y="393.25" width="31.8" height="10" fill="#9696d4"/>
<rect x="427.85" y="404.6" width="31.8" height="10" fill="#cdcdee"/>
<rect x="460.95" y="404.6" width="31.8" height="10" fill="#fdcdcd"/>
<rect x="494.05" y="404.6" width="31.8" height="10" fill="#fa9696"/>
<rect x="527.15" y="404.6" width="31.8" height="10" fill="#3646a1"/>
<rect x="560.25" y="404.6" width="31.8" height="10" fill="#224198"/>
<rect x="593.35" y="404.6" width="31.8" height="10" fill="#cdcdee"/>
<rect x="427.85" y="415.95" width="31.8" height="10" fill="#9696d4"/>
<rect x="460.95" y="415.95" width="31.8" height="10" fill="#e6e6f6"/>
<rect x="494.05" y="415.95" width="31.8" height="10" fill="#ffffff"/>
<rect x="527.15" y="415.95" width="31.8" height="10" fill="#e43b2b"/>
<rect x="560.25" y="415.95" width="31.8" height="10" fill="#224198"/>
<rect x="593.35" y="415.95" width="31.8" height="10" fill="#224198"/>
<rect x="427.85" y="429.45" width="31.8" height="10" fill="#9696d4"/>
<rect x="460.95" y="429.45" width="31.8" height="10" fill="#cdcdee"/>
<rect x="494.05" y="429.45" width="31.8" height="10" fill="#224198"/>
<rect x="527.15" y="429.45" width="31.8" height="10" fill="#224198"/>
<rect x="560.25" y="429.45" width="31.8" height="10" fill="#224198"/>
<rect x="593.35" y="429.45" width="31.8" height="10" fill="#224198"/>
<rect x="427.85" y="440.8" width="31.8" height="10" fill="#cdcdee"/>
<rect x="460.95" y="440.8" width="31.8" height="10" fill="#e6e6f6"/>
<rect x="494.05" y="440.8" width="31.8" height="10" fill="#fdd7d7"/>
<rect x="527.15" y="440.8" width="31.8" height="10" fill="#3345a0"/>
<rect x="560.25" y="440.8" width="31.8" height="10" fill="#224198"/>
<rect x="593.35" y="440.8" width="31.8" height="10" fill="#30449e"/>
<rect x="427.85" y="452.15" width="31.8" height="10" fill="#9696d4"/>
<rect x="460.95" y="452.15" width="31.8" height="10" fill="#9696d4"/>
<rect x="494.05" y="452.15" width="31.8" height="10" fill="#30449e"/>
<rect x="527.15" y="452.15" width="31.8" height="10" fill="#e6e6f6"/>
<rect x="560.25" y="452.15" width="31.8" height="10" fill="#224198"/>
<rect x="593.35" y="452.15" width="31.8" height="10" fill="#2a439c"/>
<rect x="427.85" y="463.5" width="31.8" height="10" fill="#9696d4"/>
<rect x="460.95" y="463.5" width="31.8" height="10" fill="#b2b2e1"/>
<rect x="494.05" y="463.5" width="31.8" height="10" fill="#224198"/>
<rect x="527.15" y="463.5" width="31.8" height="10" fill="#224198"/>
<rect x="560.25" y="463.5" width="31.8" height="10" fill="#224198"/>
<rect x="593.35" y="463.5" width="31.8" height="10" fill="#2d449d"/>
<rect x="426.1" y="481.7" width="200.8" height="190.8" rx="1.4" fill="#000"/>
<rect x="427.85" y="483.6" width="31.8" height="10" fill="#ffffff"/>
<rect x="460.95" y="483.6" width="31.8" height="10" fill="#fedcdc"/>
<rect x="494.05" y="483.6" width="31.8" height="10" fill="#e64234"/>
<rect x="527.15" y="483.6" width="31.8" height="10" fill="#8787cd"/>
<rect x="560.25" y="483.6" width="31.8" height="10" fill="#224198"/>
<rect x="593.35" y="483.6" width="31.8" height="10" fill="#3345a0"/>
<rect x="427.85" y="494.95" width="31.8" height="10" fill="#fdcdcd"/>
<rect x="460.95" y="494.95" width="31.8" height="10" fill="#e53e2e"/>
<rect x="494.05" y="494.95" width="31.8" height="10" fill="#e53e2e"/>
<rect x="527.15" y="494.95" width="31.8" height="10" fill="#fba6a6"/>
<rect x="560.25" y="494.95" width="31.8" height="10" fill="#224198"/>
<rect x="593.35" y="494.95" width="31.8" height="10" fill="#f0605a"/>
<rect x="427.85" y="506.3" width="31.8" height="10" fill="#fdcdcd"/>
<rect x="460.95" y="506.3" width="31.8" height="10" fill="#e84639"/>
<rect x="494.05" y="506.3" width="31.8" height="10" fill="#e53e2e"/>
<rect x="527.15" y="506.3" width="31.8" height="10" fill="#3e48a5"/>
<rect x="560.25" y="506.3" width="31.8" height="10" fill="#224198"/>
<rect x="593.35" y="506.3" width="31.8" height="10" fill="#fba1a1"/>
<rect x="427.85" y="517.65" width="31.8" height="10" fill="#fdcdcd"/>
<rect x="460.95" y="517.65" width="31.8" height="10" fill="#f88989"/>
<rect x="494.05" y="517.65" width="31.8" height="10" fill="#e64031"/>
<rect x="527.15" y="517.65" width="31.8" height="10" fill="#fba6a6"/>
<rect x="560.25" y="517.65" width="31.8" height="10" fill="#224198"/>
<rect x="593.35" y="517.65" width="31.8" height="10" fill="#fcbcbc"/>
<rect x="427.85" y="531.15" width="31.8" height="10" fill="#5c5eb7"/>
<rect x="460.95" y="531.15" width="31.8" height="10" fill="#7d7dc8"/>
<rect x="494.05" y="531.15" width="31.8" height="10" fill="#224198"/>
<rect x="560.25" y="531.15" width="31.8" height="10" fill="#224198"/>
<rect x="593.35" y="531.15" width="31.8" height="10" fill="#224198"/>
<rect x="427.85" y="542.5" width="31.8" height="10" fill="#9696d4"/>
<rect x="460.95" y="542.5" width="31.8" height="10" fill="#fee6e6"/>
<rect x="494.05" y="542.5" width="31.8" height="10" fill="#224198"/>
<rect x="560.25" y="542.5" width="31.8" height="10" fill="#224198"/>
<rect x="593.35" y="542.5" width="31.8" height="10" fill="#c2c2e9"/>
<rect x="427.85" y="553.85" width="31.8" height="10" fill="#5c5eb7"/>
<rect x="460.95" y="553.85" width="31.8" height="10" fill="#e9493c"/>
<rect x="494.05" y="553.85" width="31.8" height="10" fill="#224198"/>
<rect x="560.25" y="553.85" width="31.8" height="10" fill="#224198"/>
<rect x="593.35" y="553.85" width="31.8" height="10" fill="#30449e"/>
<rect x="427.85" y="565.2" width="31.8" height="10" fill="#5c5eb7"/>
<rect x="460.95" y="565.2" width="31.8" height="10" fill="#7d7dc8"/>
<rect x="494.05" y="565.2" width="31.8" height="10" fill="#f98e8d"/>
<rect x="560.25" y="565.2" width="31.8" height="10" fill="#224198"/>
<rect x="593.35" y="565.2" width="31.8" height="10" fill="#224198"/>
<rect x="427.85" y="578.7" width="31.8" height="10" fill="#cdcdee"/>
<rect x="460.95" y="578.7" width="31.8" height="10" fill="#b2b2e1"/>
<rect x="494.05" y="578.7" width="31.8" height="10" fill="#3847a2"/>
<rect x="527.15" y="578.7" width="31.8" height="10" fill="#224198"/>
<rect x="560.25" y="578.7" width="31.8" height="10" fill="#224198"/>
<rect x="593.35" y="578.7" width="31.8" height="10" fill="#224198"/>
<rect x="427.85" y="590.05" width="31.8" height="10" fill="#cdcdee"/>
<rect x="460.95" y="590.05" width="31.8" height="10" fill="#f57473"/>
<rect x="494.05" y="590.05" width="31.8" height="10" fill="#f05d56"/>
<rect x="527.15" y="590.05" width="31.8" height="10" fill="#ffffff"/>
<rect x="560.25" y="590.05" width="31.8" height="10" fill="#224198"/>
<rect x="593.35" y="590.05" width="31.8" height="10" fill="#a6a6dc"/>
<rect x="427.85" y="601.4" width="31.8" height="10" fill="#9696d4"/>
<rect x="460.95" y="601.4" width="31.8" height="10" fill="#ffffff"/>
<rect x="494.05" y="601.4" width="31.8" height="10" fill="#2a439c"/>
<rect x="527.15" y="601.4" width="31.8" height="10" fill="#e53e2e"/>
<rect x="560.25" y="601.4" width="31.8" height="10" fill="#224198"/>
<rect x="593.35" y="601.4" width="31.8" height="10" fill="#4950ac"/>
<rect x="427.85" y="612.75" width="31.8" height="10" fill="#ffffff"/>
<rect x="460.95" y="612.75" width="31.8" height="10" fill="#fdcdcd"/>
<rect x="494.05" y="612.75" width="31.8" height="10" fill="#fa9696"/>
<rect x="527.15" y="612.75" width="31.8" height="10" fill="#fee6e6"/>
<rect x="560.25" y="612.75" width="31.8" height="10" fill="#224198"/>
<rect x="593.35" y="612.75" width="31.8" height="10" fill="#5156b0"/>
<rect x="427.85" y="626.25" width="31.8" height="10" fill="#cdcdee"/>
<rect x="460.95" y="626.25" width="31.8" height="10" fill="#e6e6f6"/>
<rect x="494.05" y="626.25" width="31.8" height="10" fill="#7d7dc8"/>
<rect x="527.15" y="626.25" width="31.8" height="10" fill="#acacde"/>
<rect x="560.25" y="626.25" width="31.8" height="10" fill="#224198"/>
<rect x="593.35" y="626.25" width="31.8" height="10" fill="#fcc2c2"/>
<rect x="427.85" y="637.6" width="31.8" height="10" fill="#cdcdee"/>
<rect x="460.95" y="637.6" width="31.8" height="10" fill="#cdcdee"/>
<rect x="494.05" y="637.6" width="31.8" height="10" fill="#dcdcf3"/>
<rect x="527.15" y="637.6" width="31.8" height="10" fill="#fee6e6"/>
<rect x="560.25" y="637.6" width="31.8" height="10" fill="#224198"/>
<rect x="593.35" y="637.6" width="31.8" height="10" fill="#224198"/>
<rect x="427.85" y="648.95" width="31.8" height="10" fill="#cdcdee"/>
<rect x="460.95" y="648.95" width="31.8" height="10" fill="#ffffff"/>
<rect x="494.05" y="648.95" width="31.8" height="10" fill="#2a439c"/>
<rect x="527.15" y="648.95" width="31.8" height="10" fill="#e6e6f6"/>
<rect x="560.25" y="648.95" width="31.8" height="10" fill="#224198"/>
<rect x="593.35" y="648.95" width="31.8" height="10" fill="#224198"/>
<rect x="427.85" y="660.3" width="31.8" height="10" fill="#cdcdee"/>
<rect x="460.95" y="660.3" width="31.8" height="10" fill="#9696d4"/>
<rect x="494.05" y="660.3" width="31.8" height="10" fill="#6464bc"/>
<rect x="527.15" y="660.3" width="31.8" height="10" fill="#b2b2e1"/>
<rect x="560.25" y="660.3" width="31.8" height="10" fill="#224198"/>
<rect x="593.35" y="660.3" width="31.8" height="10" fill="#224198"/>
<rect x="426.1" y="678.1" width="200.8" height="48.15" rx="1.4" fill="#000"/>
<rect x="427.85" y="680" width="31.8" height="10" fill="#e43b2b"/>
<rect x="460.95" y="680" width="31.8" height="10" fill="#e43b2b"/>
<rect x="494.05" y="680" width="31.8" height="10" fill="#f26662"/>
<rect x="527.15" y="680" width="31.8" height="10" fill="#e43b2b"/>
<rect x="560.25" y="680" width="31.8" height="10" fill="#e43b2b"/>
<rect x="593.35" y="680" width="31.8" height="10" fill="#e53e2e"/>
<rect x="427.85" y="691.35" width="31.8" height="10" fill="#e43b2b"/>
<rect x="460.95" y="691.35" width="31.8" height="10" fill="#e43b2b"/>
<rect x="494.05" y="691.35" width="31.8" height="10" fill="#e43b2b"/>
<rect x="527.15" y="691.35" width="31.8" height="10" fill="#e43b2b"/>
<rect x="560.25" y="691.35" width="31.8" height="10" fill="#e43b2b"/>
<rect x="593.35" y="691.35" width="31.8" height="10" fill="#e43b2b"/>
<rect x="427.85" y="702.7" width="31.8" height="10" fill="#e43b2b"/>
<rect x="460.95" y="702.7" width="31.8" height="10" fill="#e43b2b"/>
<rect x="494.05" y="702.7" width="31.8" height="10" fill="#e43b2b"/>
<rect x="527.15" y="702.7" width="31.8" height="10" fill="#e43b2b"/>
<rect x="560.25" y="702.7" width="31.8" height="10" fill="#224198"/>
<rect x="593.35" y="702.7" width="31.8" height="10" fill="#f67977"/>
<rect x="427.85" y="714.05" width="31.8" height="10" fill="#e43b2b"/>
<rect x="460.95" y="714.05" width="31.8" height="10" fill="#e43b2b"/>
<rect x="494.05" y="714.05" width="31.8" height="10" fill="#e74436"/>
<rect x="527.15" y="714.05" width="31.8" height="10" fill="#e74436"/>
<rect x="560.25" y="714.05" width="31.8" height="10" fill="#224198"/>
<rect x="593.35" y="714.05" width="31.8" height="10" fill="#e9493c"/>
<defs><linearGradient id="lg" x1="0" y1="0" x2="0" y2="1"><stop offset="0" stop-color="rgb(226,55,37)"/><stop offset="0.1" stop-color="rgb(235,77,66)"/><stop offset="0.2" stop-color="rgb(244,108,106)"/><stop offset="0.3" stop-color="rgb(250,150,150)"/><stop offset="0.4" stop-color="rgb(253,205,205)"/><stop offset="0.5" stop-color="rgb(255,255,255)"/><stop offset="0.6" stop-color="rgb(205,205,238)"/><stop offset="0.7" stop-color="rgb(150,150,212)"/><stop offset="0.8" stop-color="rgb(100,100,188)"/><stop offset="0.9" stop-color="rgb(62,72,165)"/><stop offset="1" stop-color="rgb(34,65,152)"/></linearGradient></defs>
<rect x="640.1" y="297.7" width="22.1" height="170" rx="0.8" fill="#000"/>
<rect x="641.8" y="299.4" width="18.7" height="166.6" fill="url(#lg)"/>
<rect x="641.8" y="331.72" width="3.3" height="1.6" fill="#000"/>
<rect x="656.9" y="331.72" width="3.6" height="1.6" fill="#000"/>
<rect x="641.8" y="365.24" width="3.3" height="1.6" fill="#000"/>
<rect x="656.9" y="365.24" width="3.6" height="1.6" fill="#000"/>
<rect x="641.8" y="398.76" width="3.3" height="1.6" fill="#000"/>
<rect x="656.9" y="398.76" width="3.6" height="1.6" fill="#000"/>
<rect x="641.8" y="432.28" width="3.3" height="1.6" fill="#000"/>
<rect x="656.9" y="432.28" width="3.6" height="1.6" fill="#000"/>
<text x="73" y="11.2" font-size="15.5" font-weight="bold" text-anchor="start" >a</text>
<text x="390" y="11.6" font-size="15.5" font-weight="bold" text-anchor="start" >b</text>
<text x="229.3" y="11.6" font-size="12.7" font-weight="bold" text-anchor="middle" >A/BOL13</text>
<text x="525" y="11.8" font-size="12.7" font-weight="bold" text-anchor="middle" >A/NC99</text>
<text x="123.2" y="67.8" font-size="11.5" font-weight="bold" text-anchor="end" >Dose</text>
<text x="123.2" y="79.9" font-size="11.4" font-weight="bold" text-anchor="end">(log<tspan font-size="6.6" dy="3.3">10</tspan><tspan dy="-3.3" dx="1.3">FFU)</tspan></text>
<text x="416.9" y="67.8" font-size="11.5" font-weight="bold" text-anchor="end" >Dose</text>
<text x="416.9" y="79.9" font-size="11.4" font-weight="bold" text-anchor="end">(log<tspan font-size="6.6" dy="3.3">10</tspan><tspan dy="-3.3" dx="1.3">FFU)</tspan></text>
<text x="0" y="0" font-size="11.3" font-weight="bold" transform="translate(151.75 79.4) rotate(-45)">HAI</text>
<text x="0" y="0" font-size="11.3" font-weight="bold" transform="translate(184.85 79.4) rotate(-45)">MN</text>
<text x="0" y="0" font-size="11.3" font-weight="bold" transform="translate(217.95 79.4) rotate(-45)">WT Shedding</text>
<text x="0" y="0" font-size="11.3" font-weight="bold" transform="translate(251.05 79.4) rotate(-45)">URT</text>
<text x="0" y="0" font-size="11.3" font-weight="bold" transform="translate(284.15 79.4) rotate(-45)">LRT</text>
<text x="0" y="0" font-size="11.3" font-weight="bold" transform="translate(317.25 79.4) rotate(-45)">Fever</text>
<text x="0" y="0" font-size="11.3" font-weight="bold" transform="translate(448.05 79.4) rotate(-45)">HAI</text>
<text x="0" y="0" font-size="11.3" font-weight="bold" transform="translate(481.15 79.4) rotate(-45)">MN</text>
<text x="0" y="0" font-size="11.3" font-weight="bold" transform="translate(514.25 79.4) rotate(-45)">WT Shedding</text>
<text x="0" y="0" font-size="11.3" font-weight="bold" transform="translate(547.35 79.4) rotate(-45)">URT</text>
<text x="0" y="0" font-size="11.3" font-weight="bold" transform="translate(580.45 79.4) rotate(-45)">LRT</text>
<text x="0" y="0" font-size="11.3" font-weight="bold" transform="translate(613.55 79.4) rotate(-45)">Fever</text>
<text x="121.6" y="97.7" font-size="11"  text-anchor="end" fill="#1a1a1a">3.0</text>
<text x="121.6" y="145.7" font-size="11"  text-anchor="end" fill="#1a1a1a">4.0</text>
<text x="121.6" y="193.6" font-size="11"  text-anchor="end" fill="#1a1a1a">5.0</text>
<text x="121.6" y="241.1" font-size="11"  text-anchor="end" fill="#1a1a1a">6.0</text>
<text x="121.6" y="297.6" font-size="11"  text-anchor="end" fill="#1a1a1a">3.0</text>
<text x="121.6" y="345.6" font-size="11"  text-anchor="end" fill="#1a1a1a">4.0</text>
<text x="121.6" y="393" font-size="11"  text-anchor="end" fill="#1a1a1a">5.0</text>
<text x="121.6" y="440.5" font-size="11"  text-anchor="end" fill="#1a1a1a">6.0</text>
<text x="121.6" y="494.4" font-size="11"  text-anchor="end" fill="#1a1a1a">3.0</text>
<text x="121.6" y="542.4" font-size="11"  text-anchor="end" fill="#1a1a1a">4.0</text>
<text x="121.6" y="589.8" font-size="11"  text-anchor="end" fill="#1a1a1a">5.0</text>
<text x="121.6" y="637.3" font-size="11"  text-anchor="end" fill="#1a1a1a">6.0</text>
<text x="415.5" y="97.7" font-size="11"  text-anchor="end" fill="#1a1a1a">3.0</text>
<text x="415.5" y="145.7" font-size="11"  text-anchor="end" fill="#1a1a1a">4.0</text>
<text x="415.5" y="193.6" font-size="11"  text-anchor="end" fill="#1a1a1a">5.0</text>
<text x="415.5" y="241.1" font-size="11"  text-anchor="end" fill="#1a1a1a">6.0</text>
<text x="415.5" y="297.6" font-size="11"  text-anchor="end" fill="#1a1a1a">3.0</text>
<text x="415.5" y="345.6" font-size="11"  text-anchor="end" fill="#1a1a1a">4.0</text>
<text x="415.5" y="393" font-size="11"  text-anchor="end" fill="#1a1a1a">5.0</text>
<text x="415.5" y="440.5" font-size="11"  text-anchor="end" fill="#1a1a1a">6.0</text>
<text x="415.5" y="494.4" font-size="11"  text-anchor="end" fill="#1a1a1a">3.0</text>
<text x="415.5" y="542.4" font-size="11"  text-anchor="end" fill="#1a1a1a">4.0</text>
<text x="415.5" y="589.8" font-size="11"  text-anchor="end" fill="#1a1a1a">5.0</text>
<text x="415.5" y="637.3" font-size="11"  text-anchor="end" fill="#1a1a1a">6.0</text>
<text x="83" y="155" font-size="12.8" font-weight="bold" text-anchor="end" >Monovalent</text>
<text x="83" y="352.8" font-size="12.8" font-weight="bold" text-anchor="end" >Trivalent</text>
<text x="83" y="555.5" font-size="12.8" font-weight="bold" text-anchor="end" >Quadrivalent</text>
<text x="83" y="707.8" font-size="12.8" font-weight="bold" text-anchor="end" >Unvaccinated</text>
<text x="670.3" y="302.8" font-size="11"  text-anchor="start" fill="#1a1a1a">1.0</text>
<text x="670.3" y="336.32" font-size="11"  text-anchor="start" fill="#1a1a1a">0.8</text>
<text x="670.3" y="369.84" font-size="11"  text-anchor="start" fill="#1a1a1a">0.6</text>
<text x="670.3" y="403.36" font-size="11"  text-anchor="start" fill="#1a1a1a">0.4</text>
<text x="670.3" y="436.88" font-size="11"  text-anchor="start" fill="#1a1a1a">0.2</text>
<text x="670.3" y="470.4" font-size="11"  text-anchor="start" fill="#1a1a1a">0</text>
<text x="640" y="285.3" font-size="12.5" font-weight="bold" text-anchor="start" >Scale</text>
</g>
</svg>
</body></html>
